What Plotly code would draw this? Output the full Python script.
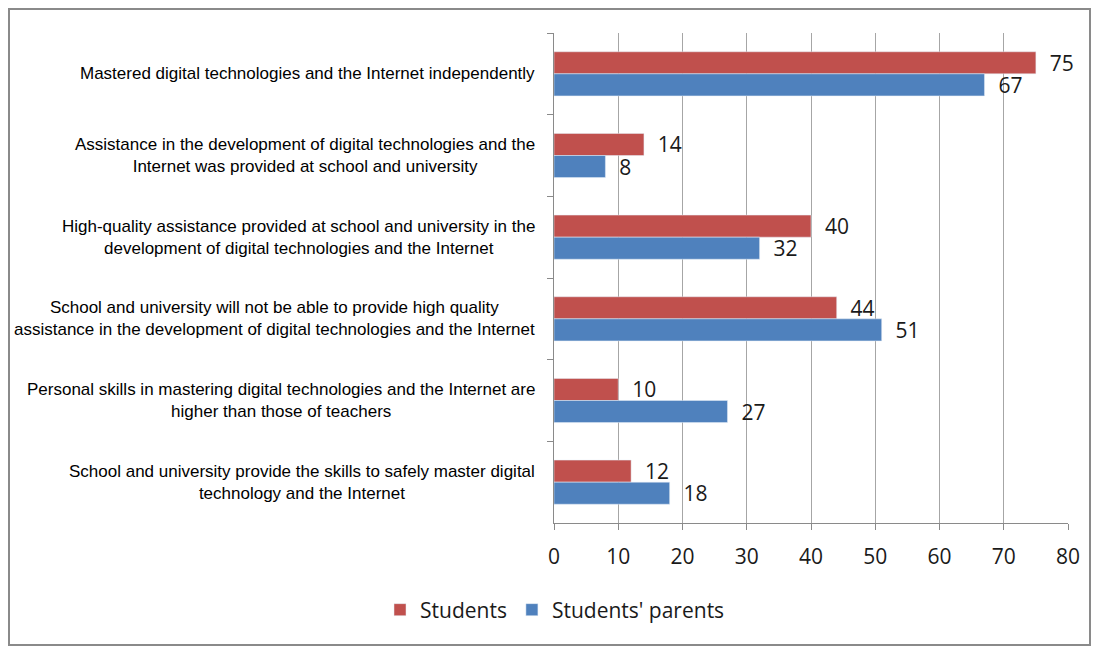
import plotly.graph_objects as go

categories = [
    "Mastered digital technologies and the Internet independently",
    "Assistance in the development of digital technologies and the<br>Internet was provided at school and university",
    "High-quality assistance provided at school and university in the<br>development of digital technologies and the Internet",
    "School and university will not be able to provide high quality<br>assistance in the development of digital technologies and the Internet",
    "Personal skills in mastering digital technologies and the Internet are<br>higher than those of teachers",
    "School and university provide the skills to safely master digital<br>technology and the Internet",
]
students = [75, 14, 40, 44, 10, 12]
parents = [67, 8, 32, 51, 27, 18]
x_ticks = [0, 10, 20, 30, 40, 50, 60, 70, 80]

W, H = 1099, 647
OFF = 8  # page body margin
ML, MT = 554 - OFF, 33 - OFF
pw, ph = 514, 490
MR, MB = W - ML - pw, H - MT - ph

num_font = dict(family="Open Sans, Lato, sans-serif", size=21, color="#1a1a1a")
cat_font = dict(family="Liberation Sans Narrow, Arial Narrow, Liberation Sans, Arial, sans-serif",
                size=17, color="#000000")

def px_x(p):
    return (p - OFF - ML) / pw

def px_y(p):
    return (MT + ph - (p - OFF)) / ph

fig = go.Figure()
fig.add_trace(go.Bar(
    y=categories, x=students, orientation="h", name="Students",
    marker=dict(color="#C0504D"),
    text=students, texttemplate="  %{x}", textposition="outside",
    textfont=num_font, constraintext="none", cliponaxis=False,
))
fig.add_trace(go.Bar(
    y=categories, x=parents, orientation="h", name="Students' parents",
    marker=dict(color="#4F81BD"),
    text=parents, texttemplate="  %{x}", textposition="outside",
    textfont=num_font, constraintext="none", cliponaxis=False,
))

for c in categories:
    fig.add_annotation(xref="paper", yref="y", x=px_x(537), y=c, text=c,
                       xanchor="right", yanchor="middle", align="center",
                       showarrow=False, font=cat_font)

fig.add_shape(type="rect", xref="paper", yref="paper",
              x0=px_x(9), x1=px_x(1090), y0=px_y(645), y1=px_y(9),
              line=dict(color="#8a8a8a", width=2), fillcolor="rgba(0,0,0,0)",
              layer="below")

fig.update_layout(
    width=W, height=H,
    margin=dict(l=ML, r=MR, t=MT, b=MB, autoexpand=False),
    paper_bgcolor="white", plot_bgcolor="white",
    barmode="group", bargap=0.46, bargroupgap=0,
    showlegend=True,
    legend=dict(orientation="h", x=px_x(555), xanchor="center", y=px_y(610), yanchor="middle",
                font=num_font, traceorder="normal", itemwidth=30),
    xaxis=dict(range=[0, 80], tickvals=x_ticks, showgrid=True, gridcolor="#a6a6a6",
               gridwidth=1, showline=True, linecolor="#8a8a8a", linewidth=1,
               ticks="outside", ticklen=6, tickcolor="#8a8a8a",
               tickfont=num_font, ticklabelstandoff=9, zeroline=False, fixedrange=True),
    yaxis=dict(autorange="reversed", showline=True, linecolor="#8a8a8a", linewidth=1,
               ticks="outside", ticklen=6, tickcolor="#8a8a8a", tickson="boundaries",
               showgrid=False, showticklabels=False, fixedrange=True),
)

fig.write_html("out.html")
